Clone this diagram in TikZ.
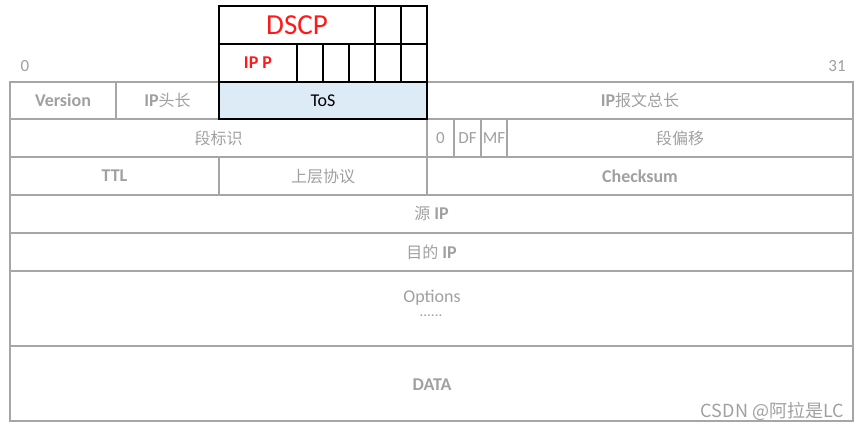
\documentclass[tikz,border=0pt]{standalone}
\usepackage{fontspec}
\setmainfont{Carlito}
\newfontfamily\cjk{Noto Sans CJK SC}
\newcommand\zh[1]{{\cjk\mdseries\fontsize{16}{18}\selectfont #1}}
\definecolor{gridgray}{HTML}{A6A6A6}
\definecolor{txtgray}{HTML}{A0A0A0}
\definecolor{tosfill}{HTML}{DDEBF7}
\definecolor{dscpred}{HTML}{FF1A1A}
\newcommand\cellnode[7][]{%
  \node[cellbox,#1,minimum width={(#5-#3)*1pt},minimum height={(#6-#4)*1pt}]
    (#2) at ({(#3+#5)/2},{(#4+#6)/2}) {#7};}
\tikzset{
  x=1pt,y=-1pt,
  cellbox/.style={draw=gridgray,line width=1.6pt,rectangle,inner sep=0pt,outer sep=0pt,
    text=txtgray,font=\fontsize{18}{20}\selectfont},
  blackbox/.style={cellbox,draw=black,line width=2pt},
  lbl/.style={inner sep=0pt,text=txtgray,font=\fontsize{17}{19}\selectfont}
}
\begin{document}
\begin{tikzpicture}
\useasboundingbox (0,0) rectangle (858,428);
% row 1
\cellnode{ver}{10}{82}{116}{119}{\bfseries Version}
\cellnode{ihl}{116}{82}{219}{119}{\bfseries IP\zh{头长}}
\cellnode{tlen}{427}{82}{853}{119}{\bfseries IP\zh{报文总长}}
% row 2
\cellnode{id}{10}{119}{427}{157}{\zh{段标识}}
\cellnode[font=\fontsize{17}{19}\selectfont]{fz}{427}{119}{454}{157}{0}
\cellnode[font=\fontsize{17}{19}\selectfont]{fdf}{454}{119}{481}{157}{DF}
\cellnode[font=\fontsize{17}{19}\selectfont]{fmf}{481}{119}{507}{157}{MF}
\cellnode{off}{507}{119}{853}{157}{\zh{段偏移}}
% row 3
\cellnode{ttl}{10}{157}{219}{195}{\bfseries TTL}
\cellnode{proto}{219}{157}{427}{195}{\zh{上层协议}}
\cellnode{cks}{427}{157}{853}{195}{\bfseries Checksum}
% rows 4-7
\cellnode{src}{10}{195}{853}{233}{\zh{源} \bfseries IP}
\cellnode{dst}{10}{233}{853}{271}{\zh{目的} \bfseries IP}
\cellnode{opt}{10}{271}{853}{346}{}
\cellnode{data}{10}{346}{853}{421}{}
\node[lbl,font=\fontsize{18}{20}\selectfont] (opttxt) at (432,298) {Options};
\node[lbl,font=\fontsize{15}{17}\selectfont] (optdots) at (431,316) {......};
\node[lbl,font=\fontsize{18}{20}\selectfont\bfseries] (datatxt) at (432,385) {DATA};
% bit labels
\node[lbl] (b0) at (25,66) {0};
\node[lbl] (b31) at (837,66) {31};
% ToS box
\cellnode[blackbox,fill=tosfill,text=black,font=\fontsize{18}{20}\selectfont]{tos}{219}{82}{427}{119}{ToS}
\cellnode[blackbox,text=dscpred,font=\fontsize{29}{32}\selectfont]{dscp}{219}{6}{375}{44}{DSCP}
\cellnode[blackbox]{d6}{375}{6}{401}{44}{}
\cellnode[blackbox]{d7}{401}{6}{427}{44}{}
\cellnode[blackbox,text=dscpred,font=\fontsize{18}{20}\selectfont\bfseries]{ipp}{219}{44}{297}{82}{IP P}
\cellnode[blackbox]{p3}{297}{44}{323}{82}{}
\cellnode[blackbox]{p4}{323}{44}{349}{82}{}
\cellnode[blackbox]{p5}{349}{44}{375}{82}{}
\cellnode[blackbox]{p6}{375}{44}{401}{82}{}
\cellnode[blackbox]{p7}{401}{44}{427}{82}{}
% watermark
\node[inner sep=0pt,text=txtgray,font=\cjk\fontsize{18}{20}\selectfont,anchor=east] (wm) at (844,411) {CSDN @阿拉是LC};
\end{tikzpicture}
\end{document}
